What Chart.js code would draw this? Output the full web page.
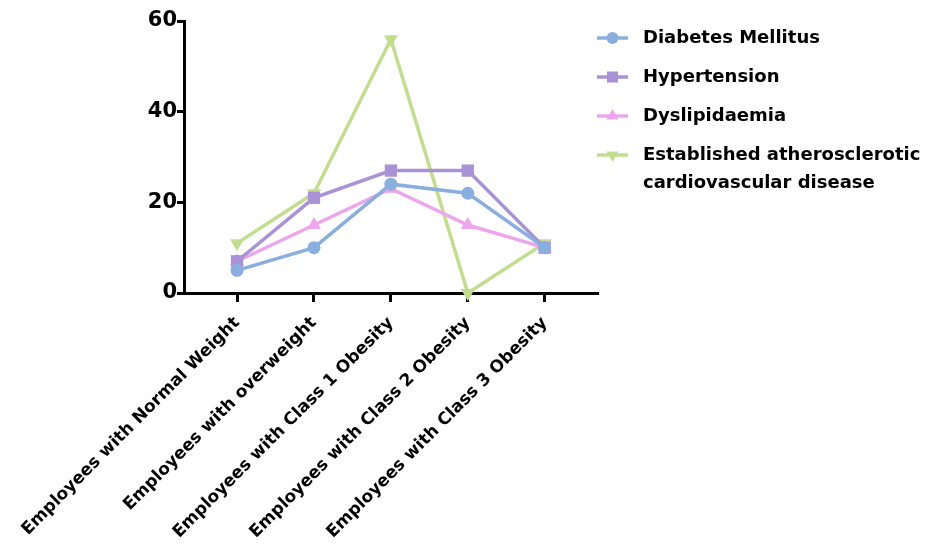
<!DOCTYPE html>
<html>
<head>
<meta charset="utf-8">
<script src="https://cdn.jsdelivr.net/npm/chart.js@4"></script>
<style>
html,body{margin:0;padding:0;background:#fff;}
canvas{display:block;}
</style>
</head>
<body>
<canvas id="c" width="944" height="549"></canvas>
<script>
const categories = ['Employees with Normal Weight','Employees with overweight','Employees with Class 1 Obesity','Employees with Class 2 Obesity','Employees with Class 3 Obesity'];
const seriesNames = ['Diabetes Mellitus','Hypertension','Dyslipidaemia',['Established atherosclerotic','cardiovascular disease']];
const diabetes = [5,10,24,22,10];
const hypertension = [7,21,27,27,10];
const dyslipidaemia = [7,15,23,15,10];
const ascvd = [11,22,56,0,11];
const yTicks = [0,20,40,60];

const FONT = '"DejaVu Sans", "Liberation Sans", Arial, sans-serif';
const colors = ['#8AAEDD','#A993D6','#EDA6EC','#C3DD8E'];
const styles = [
  {pointStyle:'circle', rotation:0, radius:6.5, lr:6},
  {pointStyle:'rect', rotation:0, radius:8.7, lr:7.8},
  {pointStyle:'triangle', rotation:0, radius:8, lr:7},
  {pointStyle:'triangle', rotation:180, radius:8, lr:7}
];
const seriesValues = [diabetes, hypertension, dyslipidaemia, ascvd];

const datasets = seriesValues.map((vals, i) => ({
  label: Array.isArray(seriesNames[i]) ? seriesNames[i].join(' ') : seriesNames[i],
  data: vals.map((v, j) => ({x: j, y: v})),
  borderColor: colors[i],
  backgroundColor: colors[i],
  borderWidth: 3.5,
  pointStyle: styles[i].pointStyle,
  rotation: styles[i].rotation,
  pointRadius: styles[i].radius,
  pointBorderWidth: 0,
  pointBackgroundColor: colors[i],
  tension: 0,
  clip: false
}));

const legendPlugin = {
  id: 'customLegend',
  afterDraw(chart) {
    const ctx = chart.ctx;
    const rows = [38, 77, 116, 155];
    const x0 = 597, x1 = 628, tx = 643;
    ctx.save();
    seriesNames.forEach((name, i) => {
      const y = rows[i];
      ctx.strokeStyle = colors[i];
      ctx.fillStyle = colors[i];
      ctx.lineWidth = 3.5;
      ctx.beginPath();
      ctx.moveTo(x0, y);
      ctx.lineTo(x1, y);
      ctx.stroke();
      Chart.helpers.drawPoint(ctx, {pointStyle: styles[i].pointStyle, radius: styles[i].lr, rotation: styles[i].rotation, borderWidth: 0}, (x0 + x1) / 2, y);
      ctx.fillStyle = '#000';
      ctx.font = 'bold 18px ' + FONT;
      ctx.textBaseline = 'middle';
      ctx.textAlign = 'left';
      const lines = Array.isArray(name) ? name : [name];
      lines.forEach((ln, k) => ctx.fillText(ln, tx, y + k * 28));
    });
    ctx.restore();
  }
};

new Chart(document.getElementById('c'), {
  type: 'line',
  data: { datasets },
  options: {
    responsive: false,
    animation: false,
    events: [],
    layout: { padding: { left: 130, right: 347, top: 21, bottom: 0 } },
    plugins: { legend: { display: false }, tooltip: { enabled: false } },
    scales: {
      x: {
        type: 'linear',
        min: -0.69,
        max: 4.68,
        afterBuildTicks: s => { s.ticks = categories.map((_, i) => ({ value: i })); },
        afterFit: s => { s.height = 256; s.paddingLeft = 0; s.paddingRight = 0; },
        grid: { display: true, drawOnChartArea: false, drawTicks: true, tickLength: 9, color: '#000', lineWidth: 3 },
        border: { display: true, color: '#000', width: 3 },
        ticks: {
          autoSkip: false,
          maxRotation: 45,
          minRotation: 45,
          padding: 11,
          color: '#000',
          font: { family: FONT, size: 17, weight: 'bold' },
          callback: v => categories[v] !== undefined ? categories[v] : ''
        }
      },
      y: {
        min: 0,
        max: 60,
        afterBuildTicks: s => { s.ticks = yTicks.map(v => ({ value: v })); },
        afterFit: s => { s.width = 54; s.paddingTop = 0; s.paddingBottom = 0; },
        grid: { display: true, drawOnChartArea: false, drawTicks: true, tickLength: 7, color: '#000', lineWidth: 3 },
        border: { display: true, color: '#000', width: 3 },
        ticks: {
          padding: 0,
          color: '#000',
          font: { family: FONT, size: 21, weight: 'bold' }
        }
      }
    }
  },
  plugins: [legendPlugin]
});
</script>
</body>
</html>
